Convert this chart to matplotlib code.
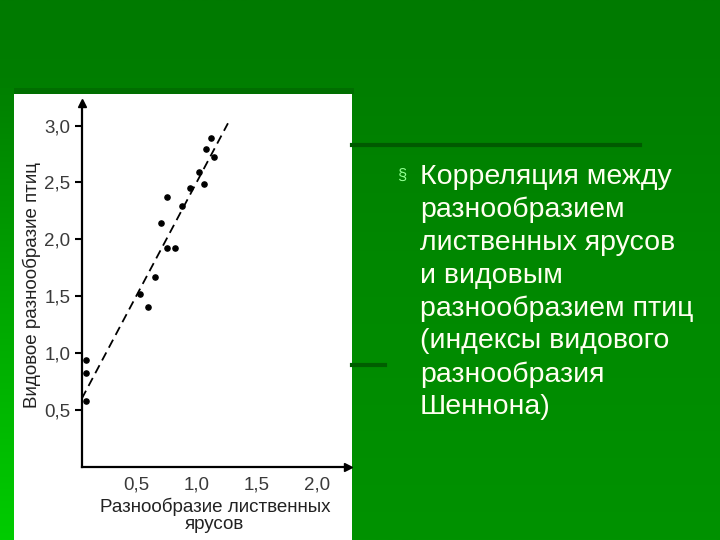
import numpy as np
import matplotlib.pyplot as plt
from matplotlib.patches import Rectangle
from matplotlib.colors import LinearSegmentedColormap

# данные
leaf_div = [0.08, 0.08, 0.08, 0.53, 0.59, 0.65, 0.70, 0.755, 0.755, 0.82,
            0.875, 0.944, 1.02, 1.06, 1.075, 1.115, 1.14]
bird_div = [0.94, 0.83, 0.58, 1.52, 1.41, 1.67, 2.14, 2.375, 1.92, 1.92,
            2.29, 2.45, 2.59, 2.49, 2.79, 2.89, 2.72]
fit_x = [0.042, 1.26]
fit_y = [0.60, 3.02]
xticks = [0.5, 1.0, 1.5, 2.0]
xtick_labels = ['0,5', '1,0', '1,5', '2,0']
yticks = [0.5, 1.0, 1.5, 2.0, 2.5, 3.0]
ytick_labels = ['0,5', '1,0', '1,5', '2,0', '2,5', '3,0']
slide_text = ['Корреляция между', 'разнообразием', 'лиственных ярусов',
              'и видовым', 'разнообразием птиц', '(индексы видового',
              'разнообразия', 'Шеннона)']

W, H = 720, 540
fig = plt.figure(figsize=(7.2, 5.4), dpi=100)

# фон слайда
bg = fig.add_axes([0, 0, 1, 1])
bg.set_axis_off()
cm = LinearSegmentedColormap.from_list('g', ['#007a00', '#008800', '#009200'])
grad = np.linspace(0, 1, 256).reshape(-1, 1)
bg.imshow(grad, cmap=cm, aspect='auto', extent=[0, W, H, 0])
strip = LinearSegmentedColormap.from_list('s', ['#008000', '#00a800', '#00cc00'])
bg.imshow(grad, cmap=strip, aspect='auto', extent=[0, 14, H, 88])
bg.add_patch(Rectangle((14, 88), 340, 6, color='#006e00', lw=0))
bg.plot([352, 640], [145, 145], color='#005a00', lw=3)
bg.plot([352, 385], [365, 365], color='#005e00', lw=3)
bg.add_patch(Rectangle((14, 94), 338, 446, color='white', lw=0))
bg.set_xlim(0, W)
bg.set_ylim(H, 0)

# текст справа
bg.text(397, 175, '§', color='#90ff90', fontsize=12, va='center',
        family='Liberation Sans')
for i, line in enumerate(slide_text):
    bg.text(420, 177 + i * 32.9, line, color='#fffff0', fontsize=20.5,
            va='center', family='Liberation Sans')

# график
ax = fig.add_axes([81.5 / W, (H - 467) / H, (348 - 81.5) / W, (467 - 102.8) / H])
ax.patch.set_alpha(0)
ax.scatter(leaf_div, bird_div, s=14, color='black', zorder=3)
ax.plot(fit_x, fit_y, color='black', lw=1.3, dashes=(5, 3))
ax.set_xlim(0.04, 2.26)
ax.set_ylim(0, 3.2)
for s in ['top', 'right']:
    ax.spines[s].set_visible(False)
for s in ['left', 'bottom']:
    ax.spines[s].set_linewidth(1.6)
ax.plot(1, 0, '>', color='black', ms=6, transform=ax.transAxes, clip_on=False)
ax.plot(0, 1, '^', color='black', ms=6, transform=ax.transAxes, clip_on=False)
ax.set_xticks(xticks, xtick_labels)
ax.set_yticks(yticks, ytick_labels)
ax.tick_params(axis='x', length=0, pad=7, labelsize=13.5, labelcolor='#3a3a3a')
ax.tick_params(axis='y', length=5, width=1.5, pad=3, labelsize=13.5,
               labelcolor='#3a3a3a')
for lab in ax.get_xticklabels() + ax.get_yticklabels():
    lab.set_family('Liberation Sans')
ax.set_xlabel('Разнообразие лиственных\nярусов', fontsize=13.5,
              color='#222222', family='Liberation Sans', labelpad=3,
              linespacing=1.0)
ax.set_ylabel('Видовое разнообразие птиц', fontsize=13.5, color='#222222',
              family='Liberation Sans', labelpad=2)

fig.savefig('out.png', dpi=100)
